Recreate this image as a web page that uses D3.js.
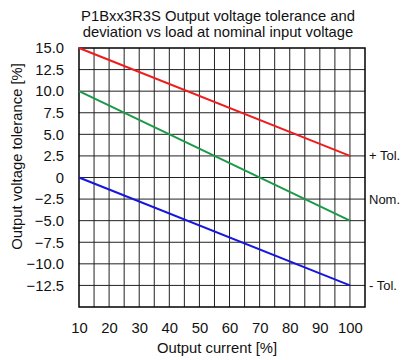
<!DOCTYPE html>
<html>
<head>
<meta charset="utf-8">
<script src="https://cdn.jsdelivr.net/npm/d3@7"></script>
<style>
  body { margin: 0; background: #fff; }
  svg { display: block; font-family: "Liberation Sans", Arial, sans-serif; }
</style>
</head>
<body>
<div id="chart"></div>
<script>
const W = 403, H = 360;
const margin = { top: 48, right: 38, bottom: 53, left: 79 };
const fs = "14.8px";

const titleLines = ["P1Bxx3R3S Output voltage tolerance and", "deviation vs load at nominal input voltage"];
const xTicks = [10, 20, 30, 40, 50, 60, 70, 80, 90, 100];
const yTicks = [15, 12.5, 10, 7.5, 5, 2.5, 0, -2.5, -5, -7.5, -10, -12.5];
const loads = [10, 100];
const plusTol = [15.0, 2.5];
const nominal = [10.0, -5.0];
const minusTol = [0.0, -12.5];
const seriesNames = ["+ Tol.", "Nom.", "- Tol."];
const labelAt = [2.5, -2.5, -12.5];

const width = W - margin.left - margin.right;
const height = H - margin.top - margin.bottom;

const svg = d3.select("#chart").append("svg")
    .attr("width", W)
    .attr("height", H);

const g = svg.append("g")
    .attr("transform", `translate(${margin.left}, ${margin.top})`);

const x = d3.scaleLinear().domain([10, 105]).range([0, width]);
const y = d3.scaleLinear().domain([-15, 15]).range([height, 0]);

// grid
g.append("g")
    .selectAll("line")
    .data(d3.range(15, 105, 5))
    .join("line")
    .attr("x1", d => x(d)).attr("x2", d => x(d))
    .attr("y1", 0).attr("y2", height)
    .attr("stroke", "#222").attr("stroke-width", 1);

g.append("g")
    .selectAll("line")
    .data(d3.range(-12.5, 15, 2.5))
    .join("line")
    .attr("x1", 0).attr("x2", width)
    .attr("y1", d => y(d)).attr("y2", d => y(d))
    .attr("stroke", "#222").attr("stroke-width", 1);

g.append("rect")
    .attr("width", width).attr("height", height)
    .attr("fill", "none").attr("stroke", "#000").attr("stroke-width", 1.5);

// axes (labels only)
const yAxis = g.append("g")
    .call(d3.axisLeft(y).tickValues(yTicks).tickSize(0).tickPadding(15)
        .tickFormat(d => d === 0 ? "0" : d3.format(".1f")(d)));
yAxis.select(".domain").remove();

const xAxis = g.append("g")
    .attr("transform", `translate(0, ${height})`)
    .call(d3.axisBottom(x).tickValues(xTicks).tickSize(0).tickPadding(15.5));
xAxis.select(".domain").remove();

g.selectAll(".tick text")
    .attr("font-size", fs)
    .attr("font-family", "Liberation Sans, Arial, sans-serif")
    .attr("fill", "#111");

// series
const series = [plusTol, nominal, minusTol];
const colors = ["#ee1c1c", "#1a9a48", "#1616dd"];
const line = d3.line().x((d, i) => x(loads[i])).y(d => y(d));

g.selectAll(".series")
    .data(series)
    .join("path")
    .attr("class", "series")
    .attr("d", d => line(d))
    .attr("fill", "none")
    .attr("stroke", (d, i) => colors[i])
    .attr("stroke-width", 2);

g.selectAll(".slabel")
    .data(seriesNames)
    .join("text")
    .attr("class", "slabel")
    .attr("x", width + 4)
    .attr("y", (d, i) => y(labelAt[i]))
    .attr("dy", "0.35em")
    .attr("font-size", "13px")
    .attr("fill", "#111")
    .text(d => d);

// titles
svg.append("text")
    .attr("y", 21)
    .attr("text-anchor", "middle")
    .attr("font-size", fs)
    .attr("fill", "#111")
    .selectAll("tspan")
    .data(titleLines)
    .join("tspan")
    .attr("x", 218)
    .attr("dy", (d, i) => i ? 15.5 : 0)
    .text(d => d);

svg.append("text")
    .attr("x", 217)
    .attr("y", 353)
    .attr("text-anchor", "middle")
    .attr("font-size", fs)
    .attr("fill", "#111")
    .text("Output current [%]");

svg.append("text")
    .attr("transform", "translate(22, 156.5) rotate(-90)")
    .attr("text-anchor", "middle")
    .attr("font-size", fs)
    .attr("fill", "#111")
    .text("Output voltage tolerance [%]");
</script>
</body>
</html>
